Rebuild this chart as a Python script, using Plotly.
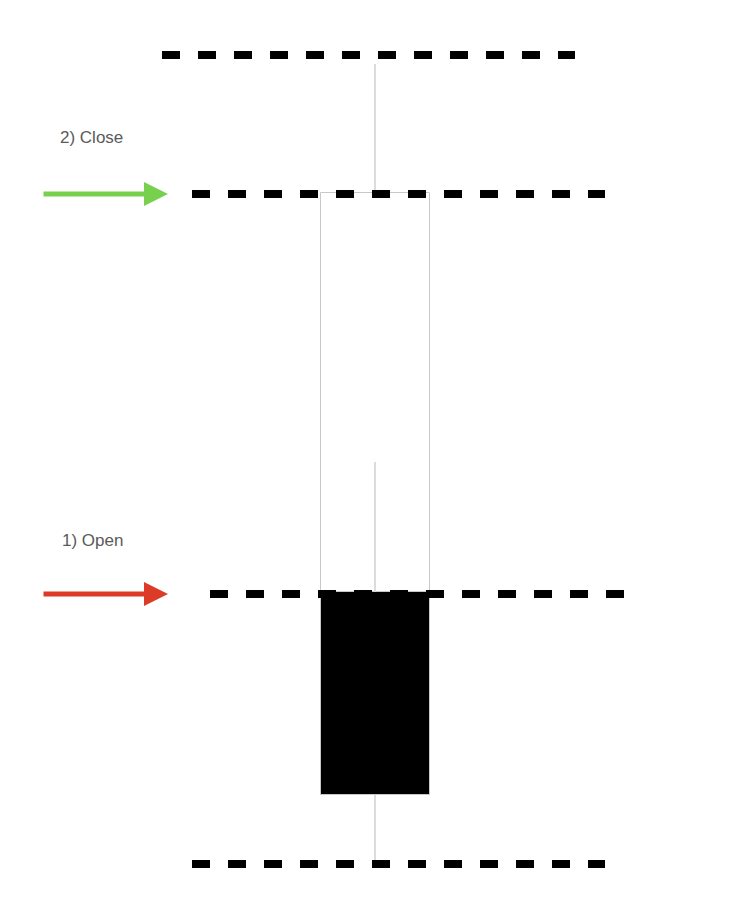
import plotly.graph_objects as go

# ---- data ----
candle_names = ["Candle A", "Candle B"]
candle_x = [375, 375]
open_vals = [30.7, 30.8]
close_vals = [70.7, 10.5]
high_vals = [83.6, 43.8]
low_vals = [30.7, 4.0]

level_names = ["high", "close", "open", "low"]
level_values = [84.5, 70.6, 30.6, 3.6]

label_texts = ["2) Close", "1) Open"]
label_values = [76.3, 36.0]

# ---- styling / layout constants ----
LEVEL_X = {"high": (162, 575), "close": (192, 605), "open": (210, 625), "low": (192, 605)}
BODY_FILL = ["white", "black"]
BODY_WIDTH = 109
BORDER = "#c8c8c8"
WICK = "#dcdcdc"
PAGE_OFFSET = 8  # default page body margin

fig = go.Figure()

for i in range(len(candle_x)):
    o, c, h, l = open_vals[i], close_vals[i], high_vals[i], low_vals[i]
    fig.add_trace(go.Bar(
        x=[candle_x[i]], y=[c - o], base=[o], width=BODY_WIDTH,
        marker=dict(color=BODY_FILL[i], line=dict(color=BORDER, width=1)),
        name=candle_names[i], hoverinfo="skip",
    ))
    top, bot = max(o, c), min(o, c)
    xs, ys = [], []
    if h > top:
        xs += [candle_x[i], candle_x[i], None]
        ys += [top, h, None]
    if l < bot:
        xs += [candle_x[i], candle_x[i], None]
        ys += [l, bot, None]
    fig.add_trace(go.Scatter(x=xs, y=ys, mode="lines",
                             line=dict(color=WICK, width=2), hoverinfo="skip"))

for name, v in zip(level_names, level_values):
    x0, x1 = LEVEL_X[name]
    fig.add_trace(go.Scatter(x=[x0, x1], y=[v, v], mode="lines",
                             line=dict(color="black", width=8, dash="18px,18px"),
                             hoverinfo="skip"))

# arrows pointing at close (green) and open (red)
arrow_levels = {"close": "#78d14e", "open": "#db3b27"}
for name, col in arrow_levels.items():
    v = level_values[level_names.index(name)]
    fig.add_annotation(x=168, y=v, ax=42, ay=v, xref="x", yref="y",
                       axref="x", ayref="y", text="", showarrow=True,
                       arrowhead=2, arrowwidth=5, arrowsize=0.96,
                       arrowcolor=col, standoff=0, startstandoff=0)

label_x = [58, 60]
for t, v, lx in zip(label_texts, label_values, label_x):
    fig.add_annotation(x=lx, y=v, xref="x", yref="y", text=t, showarrow=False,
                       xanchor="left", yanchor="middle",
                       font=dict(family="Liberation Sans, Arial, sans-serif",
                                 size=17, color="#5a5a5a"))

off_y = PAGE_OFFSET / 10.0
fig.update_layout(
    width=750, height=900,
    margin=dict(l=0, r=0, t=0, b=0),
    paper_bgcolor="white", plot_bgcolor="white",
    showlegend=False, barmode="overlay", bargap=0,
    xaxis=dict(range=[PAGE_OFFSET, 750 + PAGE_OFFSET], visible=False, fixedrange=True),
    yaxis=dict(range=[-off_y, 90 - off_y], visible=False, fixedrange=True),
)

fig.write_html("out.html")
